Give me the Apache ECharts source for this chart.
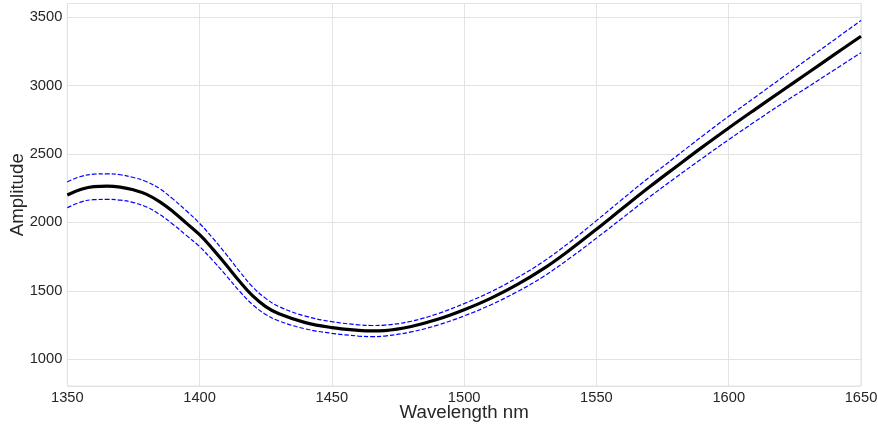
<!DOCTYPE html>
<html>
<head>
<meta charset="utf-8">
<script src="https://cdn.jsdelivr.net/npm/echarts@6/dist/echarts.min.js"></script>
<style>html,body{margin:0;padding:0;background:#fff}#c{width:878px;height:430px}</style>
</head>
<body>
<div id="c"></div>
<script>
const wavelength = [1350,1355,1360,1365,1370,1375,1380,1385,1390,1395,1400,1405,1410,1415,1420,1425,1430,1440,1450,1460,1465,1470,1480,1490,1500,1510,1520,1530,1540,1550,1560,1570,1580,1590,1600,1610,1620,1630,1640,1650];
const amplitude = [2200,2240,2262,2265,2258,2238,2205,2150,2078,1995,1910,1805,1690,1572,1465,1385,1332,1268,1232,1212,1207,1210,1240,1292,1362,1445,1545,1662,1800,1950,2105,2258,2405,2550,2690,2826,2960,3093,3227,3360];
const upper = [2296,2335,2352,2355,2348,2328,2297,2245,2170,2085,1993,1885,1768,1645,1530,1445,1385,1315,1275,1252,1247,1250,1278,1333,1407,1492,1595,1715,1857,2013,2173,2330,2480,2630,2775,2915,3055,3195,3335,3475];
const lower = [2107,2148,2166,2168,2163,2145,2112,2057,1985,1905,1823,1722,1613,1500,1400,1328,1280,1222,1190,1170,1166,1170,1200,1250,1317,1397,1493,1605,1740,1885,2035,2185,2328,2468,2605,2737,2866,2990,3115,3240];
const xTicks = [1350,1400,1450,1500,1550,1600,1650];
const yTicks = [1000,1500,2000,2500,3000,3500];

const pair = arr => wavelength.map((w,i)=>[w,arr[i]]);
const font = 'Liberation Sans, Arial, sans-serif';
const chart = echarts.init(document.getElementById('c'), null, {renderer:'canvas'});
chart.setOption({
  animation:false,
  backgroundColor:'#ffffff',
  grid:{left:67.3,right:17,top:3.5,bottom:44,show:true,borderColor:'#e3e3e3',borderWidth:1,containLabel:false,outerBoundsMode:'none'},
  xAxis:{
    type:'value',min:1350,max:1650,interval:50,
    name:'Wavelength nm',nameLocation:'middle',nameGap:17,nameMoveOverlap:false,
    nameTextStyle:{fontFamily:font,fontSize:18.7,color:'#262626',verticalAlign:'top'},
    axisLine:{show:false},axisTick:{show:false},
    axisLabel:{fontFamily:font,fontSize:14.7,color:'#262626',margin:4,
      formatter:v=>xTicks.includes(v)?String(v):''},
    splitLine:{show:true,lineStyle:{color:'#e3e3e3',width:1}}
  },
  yAxis:{
    type:'value',min:805,max:3599,splitNumber:5,
    name:'Amplitude',nameLocation:'middle',nameGap:40,nameMoveOverlap:false,
    nameTextStyle:{fontFamily:font,fontSize:18.7,color:'#262626'},
    axisLine:{show:false},axisTick:{show:false},
    axisLabel:{fontFamily:font,fontSize:14.7,color:'#262626',margin:5,showMinLabel:false,showMaxLabel:false,
      formatter:v=>yTicks.includes(v)?String(v):''},
    splitLine:{show:true,lineStyle:{color:'#e3e3e3',width:1}}
  },
  series:[
    {type:'line',data:pair(upper),smooth:0.4,showSymbol:false,lineStyle:{color:'#0000ff',width:1.2,type:[4.5,2]},z:2},
    {type:'line',data:pair(lower),smooth:0.4,showSymbol:false,lineStyle:{color:'#0000ff',width:1.2,type:[4.5,2]},z:2},
    {type:'line',data:pair(amplitude),smooth:0.4,showSymbol:false,lineStyle:{color:'#000000',width:3.2},z:3}
  ]
});
</script>
</body>
</html>
